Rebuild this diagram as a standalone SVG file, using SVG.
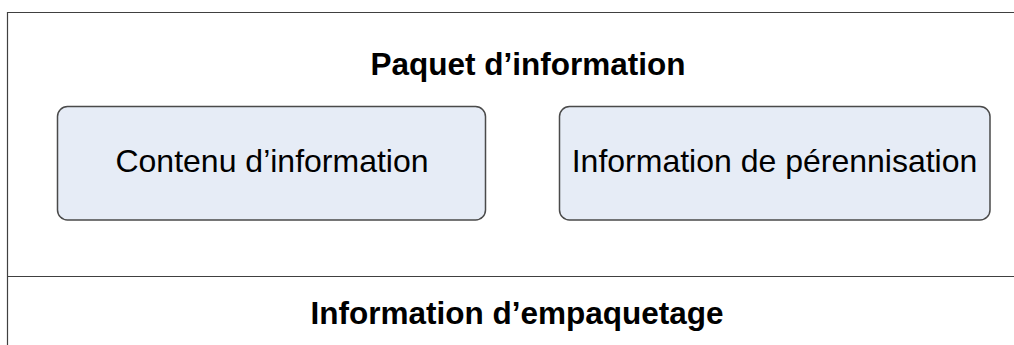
<svg xmlns="http://www.w3.org/2000/svg" width="1014" height="345" viewBox="0 0 1014 345">
<style>
.frame{fill:none;stroke:#404040;stroke-width:1.2}
.box{fill:#E6ECF6;stroke:#4a4a4a;stroke-width:1.5}
.bold{font-family:"Liberation Sans",Arial,sans-serif;font-weight:bold;font-size:31.5px;fill:#000;text-anchor:middle}
.reg{font-family:"Liberation Sans",Arial,sans-serif;font-size:32px;fill:#000;text-anchor:middle}
</style>
<rect width="1014" height="345" fill="#fff"/>
<g id="frame">
<path class="frame" d="M1014 12.5 H7.5 V345"/>
<path class="frame" d="M7.5 276.5 H1014"/>
<text class="bold" x="528" y="75">Paquet d’information</text>
<text class="bold" x="517" y="324">Information d’empaquetage</text>
</g>
<g id="contenu">
<rect class="box" x="57.5" y="106.5" width="428" height="113.5" rx="10"/>
<text class="reg" x="272" y="172">Contenu d’information</text>
</g>
<g id="perennisation">
<rect class="box" x="559.5" y="106.5" width="430.5" height="113.5" rx="10"/>
<text class="reg" x="774.5" y="172">Information de pérennisation</text>
</g>
<g id="connectors"/>
</svg>
